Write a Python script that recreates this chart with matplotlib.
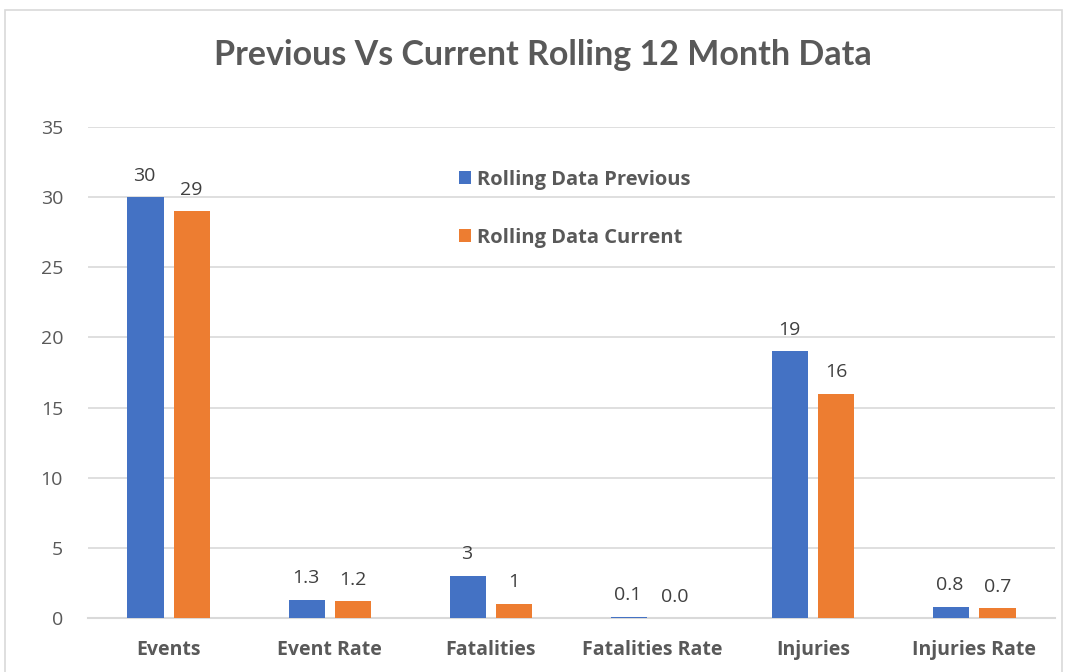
import matplotlib
matplotlib.use("Agg")
import matplotlib.pyplot as plt
from matplotlib.patches import Rectangle
import numpy as np

categories = ["Events", "Event Rate", "Fatalities", "Fatalities Rate", "Injuries", "Injuries Rate"]
previous = [30, 1.3, 3, 0.1, 19, 0.8]
current = [29, 1.2, 1, 0.0, 16, 0.7]
previous_labels = ["30", "1.3", "3", "0.1", "19", "0.8"]
current_labels = ["29", "1.2", "1", "0.0", "16", "0.7"]
series_names = ["Rolling Data Previous", "Rolling Data Current"]
yticks = [0, 5, 10, 15, 20, 25, 30, 35]

plt.rcParams['font.family'] = ['Open Sans', 'DejaVu Sans']

fig = plt.figure(figsize=(10.65, 6.72), dpi=100)
fig.patch.set_facecolor("white")
fig.add_artist(Rectangle((5/1065, -0.05), 1057/1065, 1 - 10/672 + 0.05,
                         transform=fig.transFigure, fill=False,
                         edgecolor="#d9d9d9", linewidth=1.2))

ax = fig.add_axes([88/1065, 1 - 618/672, (1055-88)/1065, (618-127)/672])
x = np.arange(len(categories))
w = 0.224
off = 0.143
blue = "#4472C4"
orange = "#ED7D31"
b1 = ax.bar(x - off, previous, w, color=blue, label=series_names[0], zorder=3)
b2 = ax.bar(x + off, current, w, color=orange, label=series_names[1], zorder=3)

fs = 14
for rect, lab in zip(b1, previous_labels):
    ax.annotate(lab, (rect.get_x() + rect.get_width()/2, rect.get_height()),
                xytext=(-1, 9), textcoords="offset points", ha="center", va="bottom",
                fontsize=fs, color="#404040")
for rect, lab in zip(b2, current_labels):
    ax.annotate(lab, (rect.get_x() + rect.get_width()/2, rect.get_height()),
                xytext=(0, 9), textcoords="offset points", ha="center", va="bottom",
                fontsize=fs, color="#404040")

ax.set_xlim(-0.5, len(categories) - 0.5)
ax.set_ylim(0, 35)
ax.set_yticks(yticks)
ax.set_yticklabels([str(t) for t in yticks], fontsize=fs, color="#595959")
ax.set_xticks(x)
ax.set_xticklabels(categories, fontsize=fs, fontweight="bold", color="#595959")
ax.tick_params(axis="both", length=0)
ax.tick_params(axis="x", pad=16)
ax.tick_params(axis="y", pad=18)
ax.grid(axis="y", color="#d9d9d9", linewidth=1.2, zorder=0)
for s in ["top", "right", "left"]:
    ax.spines[s].set_visible(False)
ax.spines["bottom"].set_color("#d9d9d9")
ax.spines["bottom"].set_linewidth(1.5)

leg = ax.legend(loc="upper left", bbox_to_anchor=(0.365, 0.95), frameon=False,
                fontsize=14.5, labelspacing=1.9, handlelength=0.6, handleheight=0.6,
                handletextpad=0.3)
for t in leg.get_texts():
    t.set_color("#595959")
    t.set_fontweight("bold")

fig.text(543/1065, 1 - 55/672, "Previous Vs Current Rolling 12 Month Data",
         ha="center", va="center", fontsize=24.5, fontweight="bold", color="#595959",
         family=["Lato", "DejaVu Sans"])

fig.savefig("out.png", dpi=100)
